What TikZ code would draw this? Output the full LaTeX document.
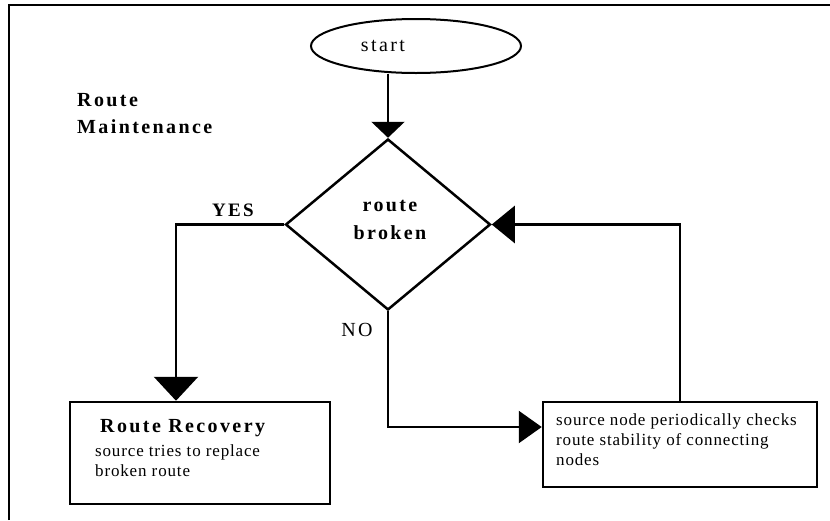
\documentclass[tikz,border=0pt]{standalone}
\usepackage{fontspec}
\setmainfont{Liberation Serif}
\newfontfamily\bodyf[LetterSpace=5]{Liberation Serif}
\newfontfamily\widef[LetterSpace=12]{Liberation Serif}
\usetikzlibrary{shapes.geometric,arrows.meta,calc}
\tikzset{
  conn/.style={line width=2.5pt},
  boxst/.style={draw,line width=2.5pt,rectangle,inner sep=0pt},
  bodytxt/.style={font=\bodyf\fontsize{17}{20}\selectfont,inner sep=0pt,align=left},
  boldtxt/.style={font=\widef\bfseries\fontsize{20}{28}\selectfont,inner sep=0pt,align=center},
}
\begin{document}
\begin{tikzpicture}[x=1pt,y=-1pt]
\useasboundingbox (0,0) rectangle (830,520);
% frame
\draw[line width=2.5pt] (9,520) -- (9,5) -- (830,5);
% start
\node[draw,ellipse,line width=2pt,minimum width=210pt,minimum height=54pt,inner sep=0pt] (start) at (416,46) {};
\node[font=\widef\fontsize{20}{20}\selectfont,inner sep=0pt] (starttxt) at (383,46) {start};
% title
\node[font=\widef\bfseries\fontsize{20}{27}\selectfont,inner sep=0pt,align=left,anchor=west] (title) at (77,113.5) {Route\\Maintenance};
% diamond
\node[draw,diamond,line width=2.5pt,minimum width=205pt,minimum height=171pt,inner sep=0pt] (dia) at (388,224.5) {};
\node[boldtxt] (diatxt) at (390,220) {route\\broken};
% boxes
\node[boxst,minimum width=260pt,minimum height=102pt] (rec) at (200,453) {};
\node[font=\widef\bfseries\fontsize{20}{20}\selectfont,inner sep=0pt,anchor=west] (rectitle) at (100,428) {Route Recovery};
\node[bodytxt,anchor=north west] (rectxt) at (95,444) {source tries to replace\\broken route};
\node[boxst,minimum width=274pt,minimum height=85pt] (chk) at (680,444.5) {};
\node[bodytxt,anchor=north west] (chktxt) at (556,413) {source node periodically checks\\route stability of connecting\\nodes};
% connectors
\draw[conn,-{Triangle[length=16pt,width=33pt]}] (start.south -| dia.north) -- (dia.north);
\draw[conn,-{Triangle[length=24pt,width=44pt]}] (dia.west) -| ([xshift=-24pt]rec.north);
\draw[conn,-{Triangle[length=23pt,width=32pt]}] (dia.south) |- ([yshift=17.5pt]chk.west);
\draw[conn,-{Triangle[length=23pt,width=37pt]}] (chk.north) |- (dia.east);
% labels
\node[font=\widef\bfseries\fontsize{19}{20}\selectfont,inner sep=0pt] (yes) at (233,210) {YES};
\node[font=\widef\fontsize{20}{20}\selectfont,inner sep=0pt] (no) at (357,330) {NO};
\end{tikzpicture}
\end{document}
